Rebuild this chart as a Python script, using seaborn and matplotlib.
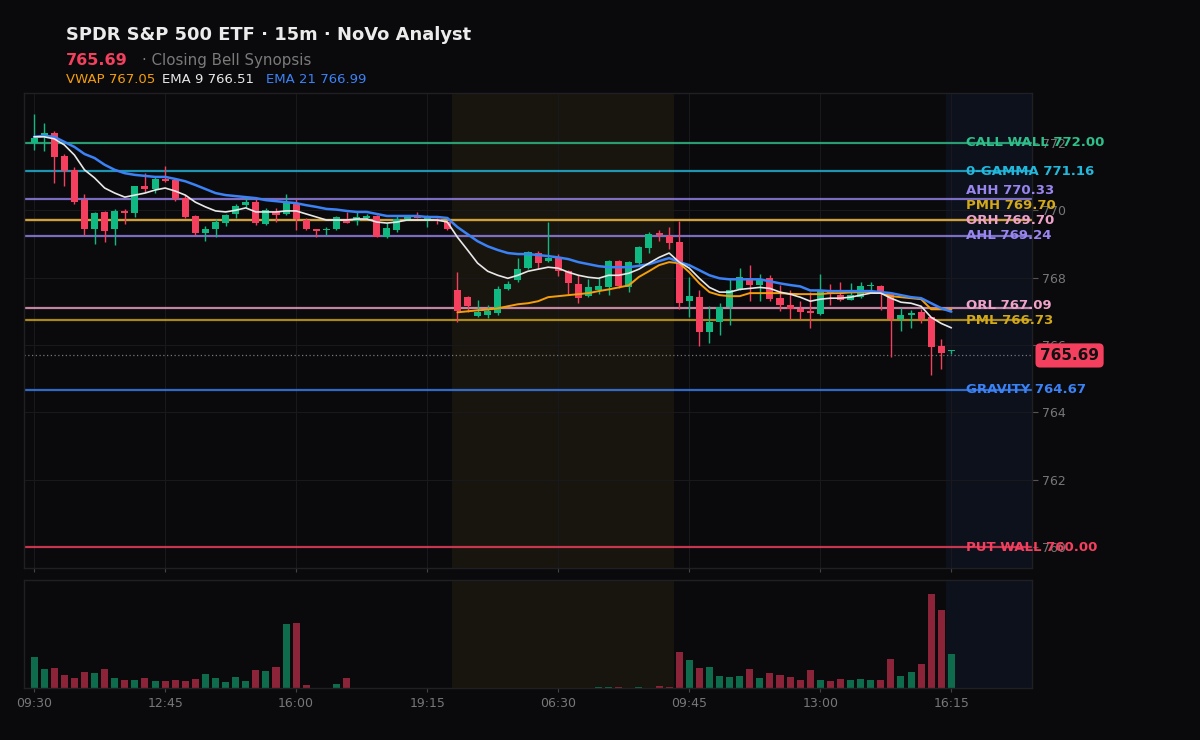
import numpy as np
import seaborn as sns
import matplotlib.pyplot as plt
from matplotlib.transforms import blended_transform_factory

# 15m bars: RTH day 1, after hours, premarket, RTH day 2
opens = [772.00, 772.18, 772.30, 771.61, 771.20, 770.30, 769.44, 769.95, 769.44, 769.97,
         769.92, 770.72, 770.63, 770.93, 770.90, 770.36, 769.83, 769.32, 769.44, 769.62,
         769.89, 770.15, 770.24, 769.59, 769.95, 769.89, 770.21, 769.71, 769.44, 769.42,
         769.44, 769.71, 769.68, 769.77, 769.83, 769.20, 769.41, 769.74, 769.79, 769.74,
         769.75, 769.65, 767.62, 767.42, 766.85, 766.88, 766.94, 767.65, 767.92, 768.28,
         768.73, 768.49, 768.61, 768.19, 767.80, 767.45, 767.62, 767.72, 768.49, 767.72,
         768.43, 768.88, 769.32, 769.23, 769.05, 767.30, 767.42, 766.40, 766.67, 767.12,
         767.65, 768.00, 767.77, 767.99, 767.39, 767.20, 767.08, 767.00, 766.92, 767.57,
         767.48, 767.33, 767.42, 767.74, 767.74, 767.54, 766.76, 766.90, 766.97, 766.82,
         765.96, 765.82]
highs = [772.86, 772.60, 772.36, 771.67, 771.29, 770.48, 769.95, 769.98, 770.04, 770.04,
         770.72, 771.10, 770.99, 771.32, 770.93, 770.45, 769.86, 769.53, 769.74, 769.90,
         770.18, 770.39, 770.36, 770.06, 770.06, 770.48, 770.33, 769.77, 769.44, 769.50,
         769.83, 769.95, 769.95, 769.90, 769.86, 769.62, 769.83, 769.82, 769.95, 769.86,
         769.77, 769.68, 768.16, 767.45, 767.33, 767.20, 767.75, 767.90, 768.58, 768.80,
         768.80, 769.65, 768.70, 768.22, 768.07, 767.96, 768.00, 768.52, 768.52, 768.50,
         768.94, 769.35, 769.41, 769.50, 769.68, 768.01, 767.63, 767.15, 767.25, 767.95,
         768.30, 768.37, 768.10, 768.08, 767.77, 767.62, 767.30, 767.57, 768.10, 767.80,
         767.86, 767.84, 767.86, 767.86, 767.77, 767.57, 767.09, 767.03, 767.06, 766.84,
         766.17, 765.86]
lows = [771.80, 771.76, 770.80, 770.72, 770.20, 769.26, 768.99, 769.05, 768.96, 769.60,
        769.80, 770.54, 770.51, 770.84, 770.27, 769.78, 769.26, 769.08, 769.20, 769.53,
        769.77, 770.10, 769.56, 769.56, 769.65, 769.86, 769.41, 769.41, 769.20, 769.26,
        769.41, 769.62, 769.56, 769.74, 769.20, 769.18, 769.35, 769.72, 769.76, 769.50,
        769.60, 769.42, 766.67, 766.97, 766.82, 766.80, 766.90, 767.62, 767.88, 768.25,
        768.25, 768.45, 768.05, 767.50, 767.24, 767.42, 767.50, 767.48, 767.70, 767.56,
        768.40, 768.73, 769.10, 768.86, 767.06, 766.82, 765.96, 766.07, 766.30, 766.60,
        767.62, 767.30, 767.30, 767.30, 767.00, 766.76, 766.76, 766.50, 766.90, 767.18,
        767.30, 767.33, 767.40, 767.60, 767.03, 765.63, 766.43, 766.50, 766.64, 765.10,
        765.30, 765.74]
closes = [772.15, 772.30, 771.58, 771.17, 770.24, 769.44, 769.92, 769.38, 769.98, 769.92,
          770.72, 770.63, 770.93, 770.87, 770.33, 769.80, 769.32, 769.44, 769.65, 769.86,
          770.13, 770.24, 769.62, 770.00, 769.86, 770.21, 769.74, 769.44, 769.38, 769.45,
          769.80, 769.62, 769.80, 769.83, 769.20, 769.47, 769.74, 769.80, 769.77, 769.80,
          769.72, 769.44, 767.00, 767.15, 766.97, 767.00, 767.65, 767.80, 768.25, 768.76,
          768.43, 768.58, 768.19, 767.83, 767.39, 767.72, 767.74, 768.49, 767.74, 768.46,
          768.90, 769.29, 769.26, 769.02, 767.24, 767.45, 766.40, 766.67, 767.12, 767.63,
          768.01, 767.77, 767.93, 767.36, 767.18, 767.06, 766.97, 766.94, 767.60, 767.50,
          767.33, 767.48, 767.74, 767.78, 767.57, 766.76, 766.88, 766.96, 766.78, 765.93,
          765.75, 765.86]
volume = [31, 19, 20, 13, 10, 16, 15, 19, 10, 8, 8, 10, 7, 7, 8, 7, 9, 14, 10, 6,
          11, 7, 18, 17, 21, 64, 65, 3, 0, 0, 4, 10, 0, 0, 0, 0, 0, 0, 0, 0,
          0, 0, 0, 0, 0, 0, 0, 0, 0, 0, 0, 0, 0, 0, 0, 0, 1, 1, 1, 0,
          1, 0, 2, 1, 36, 28, 20, 21, 12, 11, 12, 19, 10, 15, 13, 11, 8, 18, 8, 7,
          9, 8, 9, 8, 8, 29, 12, 16, 24, 94, 78, 34]
ema9 = [772.18, 772.18, 772.12, 771.94, 771.64, 771.20, 770.96, 770.66, 770.51, 770.39,
        770.45, 770.51, 770.60, 770.66, 770.57, 770.45, 770.24, 770.10, 769.98, 769.95,
        770.00, 770.07, 769.95, 769.95, 769.95, 769.98, 769.98, 769.89, 769.80, 769.71,
        769.71, 769.71, 769.74, 769.74, 769.65, 769.62, 769.65, 769.71, 769.71, 769.71,
        769.71, 769.65, 769.20, 768.82, 768.43, 768.19, 768.07, 767.98, 768.07, 768.19,
        768.25, 768.31, 768.28, 768.16, 768.07, 768.01, 767.98, 768.07, 768.07, 768.13,
        768.25, 768.43, 768.60, 768.73, 768.46, 768.28, 767.98, 767.71, 767.57, 767.57,
        767.65, 767.68, 767.71, 767.68, 767.57, 767.51, 767.42, 767.30, 767.36, 767.39,
        767.39, 767.42, 767.48, 767.54, 767.54, 767.39, 767.27, 767.24, 767.15, 766.82,
        766.64, 766.51]
ema21 = [772.18, 772.21, 772.18, 772.03, 771.88, 771.67, 771.55, 771.35, 771.20, 771.10,
         771.05, 771.02, 770.99, 770.99, 770.93, 770.86, 770.75, 770.63, 770.51, 770.45,
         770.42, 770.39, 770.36, 770.30, 770.27, 770.24, 770.21, 770.15, 770.10, 770.04,
         770.02, 769.98, 769.95, 769.95, 769.89, 769.83, 769.83, 769.83, 769.83, 769.80,
         769.80, 769.77, 769.50, 769.29, 769.08, 768.93, 768.82, 768.73, 768.70, 768.70,
         768.67, 768.64, 768.60, 768.55, 768.46, 768.40, 768.34, 768.31, 768.31, 768.31,
         768.35, 768.40, 768.49, 768.58, 768.46, 768.37, 768.22, 768.07, 767.98, 767.95,
         767.95, 767.95, 767.95, 767.89, 767.83, 767.78, 767.74, 767.62, 767.62, 767.60,
         767.60, 767.60, 767.60, 767.60, 767.57, 767.54, 767.48, 767.42, 767.39, 767.24,
         767.09, 766.99]
vwap = [np.nan] * 42 + [
    766.97, 767.00, 767.03, 767.05, 767.09, 767.15, 767.21, 767.24, 767.30, 767.42,
    767.45, 767.48, 767.51, 767.54, 767.60, 767.65, 767.71, 767.77, 768.02, 768.19,
    768.37, 768.46, 768.43, 768.16, 767.83, 767.57, 767.48, 767.45, 767.45, 767.54,
    767.54, 767.54, 767.54, 767.52, 767.51, 767.51, 767.51, 767.54, 767.54, 767.56,
    767.57, 767.57, 767.54, 767.45, 767.42, 767.39, 767.36, 767.06, 767.06, 767.05]

tick_idx = [0, 13, 26, 39, 52, 65, 78, 91]
tick_labels = ['09:30', '12:45', '16:00', '19:15', '06:30', '09:45', '13:00', '16:15']

level_names = ['CALL WALL', '0-GAMMA', 'AHH', 'PMH', 'ORH', 'AHL', 'ORL', 'PML', 'GRAVITY', 'PUT WALL']
level_values = [772.00, 771.16, 770.33, 769.70, 769.70, 769.24, 767.09, 766.73, 764.67, 760.00]
level_colors = ['#2fbf8a', '#22b8dc', '#9a86f0', '#d4a919', '#f0a3c8', '#9a86f0',
                '#f0a3c8', '#d4a919', '#3b82f6', '#f43f5e']

last_price = 765.69
premarket = (41.5, 63.5)
after_hours_start = 90.5

UP, DOWN = '#10b981', '#f43f5e'
BG = '#0a0a0c'

sns.set_theme(style='dark')
plt.rcParams['font.family'] = ['DejaVu Sans']
plt.rcParams['patch.edgecolor'] = 'none'

x = np.arange(len(closes))
o, h, l, c = map(np.array, (opens, highs, lows, closes))
up = c >= o
colors = np.where(up, UP, DOWN)

fig = plt.figure(figsize=(12, 7.4), dpi=100, facecolor=BG)
ax = fig.add_axes([0.02, 0.2324, 0.84, 0.6419])
axv = fig.add_axes([0.02, 0.0703, 0.84, 0.1459], sharex=ax)

for a in (ax, axv):
    a.set_facecolor(BG)
    a.axvspan(*premarket, color='#18150e', lw=0, zorder=0)
    a.axvspan(after_hours_start, 99, color='#0c111c', lw=0, zorder=0)
    for s in a.spines.values():
        s.set_color('#1f1f24')
        s.set_linewidth(1)
    a.grid(True, color='#19191d', linewidth=0.8, zorder=0.5)
    a.set_axisbelow(True)

# key levels
for name, val, col in reversed(list(zip(level_names, level_values, level_colors))):
    ax.axhline(val, color=col, lw=1.6, alpha=0.8, zorder=1)

ax.axhline(last_price, color='#777777', lw=0.9, ls=(0, (1, 2)), zorder=1.5)

# candles
ax.vlines(x, l, h, colors=colors, lw=1, zorder=3)
body = np.maximum(np.abs(c - o), 0.03)
ax.bar(x, body, bottom=np.minimum(o, c), width=0.7, color=colors,
       edgecolor='none', linewidth=0, zorder=3.5)

# indicators
sns.lineplot(x=x, y=vwap, ax=ax, color='#f59e0b', lw=1.4, zorder=4)
sns.lineplot(x=x, y=ema21, ax=ax, color='#3b82f6', lw=1.8, zorder=4.2)
sns.lineplot(x=x, y=ema9, ax=ax, color='#e8e8e8', lw=1.2, zorder=4.4)

ax.set_xlim(-1, 99)
ax.set_ylim(759.38, 773.48)
ax.yaxis.tick_right()
ax.set_yticks([760, 762, 764, 766, 768, 770, 772])
ax.tick_params(axis='y', colors='#555555', labelcolor='#777777', labelsize=9,
               length=4, width=0.8, pad=3, right=True)
ax.tick_params(axis='x', colors='#444444', length=3, width=0.8, bottom=True, labelbottom=False)
ax.set_xticks(tick_idx)
ax.set_xlabel('')
ax.set_ylabel('')

# level labels, pushed apart so they don't collide
gap = 0.45
pos = [0.0] * len(level_values)
prev = -np.inf
for i in reversed(range(len(level_values))):
    pos[i] = max(level_values[i], prev + gap)
    prev = pos[i]
for name, val, p, col in zip(level_names, level_values, pos, level_colors):
    ax.text(92.5, p, f'{name} {val:.2f}', color=col, fontsize=9.5, fontweight='bold',
            va='center', ha='left', zorder=6, clip_on=False)

# last price tag
tr = blended_transform_factory(ax.transAxes, ax.transData)
ax.text(1.008, last_price, f'{last_price:.2f}', transform=tr, color='#111111', fontsize=11,
        fontweight='bold', va='center', ha='left', zorder=7, clip_on=False,
        bbox=dict(boxstyle='round,pad=0.3,rounding_size=0.3', fc=DOWN, ec='none'))

# volume
axv.bar(x, volume, width=0.7, color=np.where(up, '#0e6b4c', '#8c2439'),
        edgecolor='none', linewidth=0, zorder=2)
axv.set_ylim(0, max(volume) * 1.15)
axv.set_yticks([])
axv.set_xticks(tick_idx)
axv.set_xticklabels(tick_labels)
axv.tick_params(axis='x', colors='#444444', labelcolor='#777777', labelsize=9,
                length=3, width=0.8, bottom=True)
axv.grid(False)
axv.set_xlim(-1, 99)

# header
fig.text(0.055, 0.9527, 'SPDR S&P 500 ETF · 15m · NoVo Analyst', color='#ececec',
         fontsize=12.9, fontweight='bold', va='center')
fig.text(0.055, 0.9189, f'{last_price:.2f}', color=DOWN, fontsize=11.5, fontweight='bold', va='center')
fig.text(0.1183, 0.9189, '· Closing Bell Synopsis', color='#7a7a7a', fontsize=10.8, va='center')
fig.text(0.055, 0.8932, f'VWAP {vwap[-1]:.2f}', color='#f59e0b', fontsize=9.5, va='center')
fig.text(0.135, 0.8932, f'EMA 9 {ema9[-1]:.2f}', color='#e8e8e8', fontsize=9.5, va='center')
fig.text(0.2217, 0.8932, f'EMA 21 {ema21[-1]:.2f}', color='#3b82f6', fontsize=9.5, va='center')

fig.savefig('out.png', dpi=100, facecolor=BG)
